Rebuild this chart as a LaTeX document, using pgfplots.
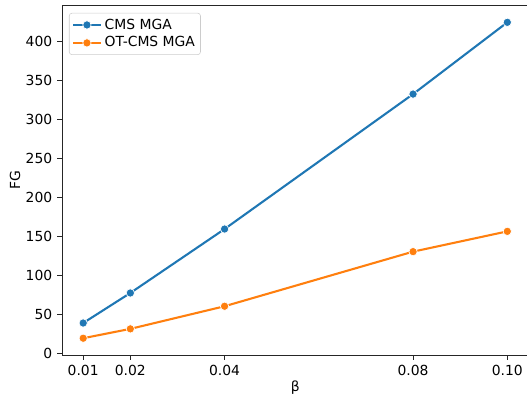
\documentclass[border=0pt]{standalone}
\usepackage{fontspec}
\setmainfont{DejaVu Sans}
\usepackage{pgfplots}
\pgfplotsset{compat=1.18}
\definecolor{tabblue}{HTML}{1F77B4}
\definecolor{taborange}{HTML}{FF7F0E}
\begin{document}
\begin{tikzpicture}[x=1pt,y=1pt]
\path[use as bounding box] (0,0) rectangle (379.44,285.12);
\begin{axis}[
  at={(44.64pt,29.52pt)}, anchor=south west,
  scale only axis, width=335.9pt, height=251.3pt,
  xmin=0.0055, xmax=0.1045, ymin=-2.5, ymax=445,
  xtick={0.01,0.02,0.04,0.08,0.10},
  xticklabels={0.01,0.02,0.04,0.08,0.10},
  ytick={0,50,100,150,200,250,300,350,400},
  tick align=outside, tick pos=left,
  major tick length=3.5pt,
  every tick/.style={black!85, line width=0.7pt},
  axis line style={line width=0.7pt, black!85},
  /pgf/number format/assume math mode=true,
  yticklabel style={/pgf/number format/fixed},
  tick label style={font=\fontsize{10}{12}\selectfont},
  label style={font=\fontsize{10}{12}\selectfont},
  xlabel={β}, ylabel={FG},
  xlabel style={yshift=2.5pt},
  ylabel style={xshift=0pt, yshift=-3pt},
  legend cell align=left,
  legend style={at={(0,1)}, anchor=north west, xshift=5pt, yshift=-5pt,
    draw=black!20, rounded corners=2pt, font=\fontsize{10}{12}\selectfont,
    inner sep=2pt, row sep=0pt},
  legend image code/.code={\draw[mark repeat=2,mark phase=2] plot coordinates {(0pt,0pt)(10pt,0pt)(20pt,0pt)};},
]
\addplot[tabblue, line width=1.5pt, mark=*, mark size=3pt,
  mark options={draw=white, fill=tabblue, line width=0.5pt}]
  coordinates {(0.01,38.5) (0.02,77) (0.04,159) (0.08,332) (0.10,424)};
\addlegendentry{CMS MGA}
\addplot[taborange, line width=1.5pt, mark=*, mark size=3pt,
  mark options={draw=white, fill=taborange, line width=0.5pt}]
  coordinates {(0.01,19) (0.02,31) (0.04,60) (0.08,130) (0.10,156)};
\addlegendentry{OT-CMS MGA}
\end{axis}
\end{tikzpicture}
\end{document}
